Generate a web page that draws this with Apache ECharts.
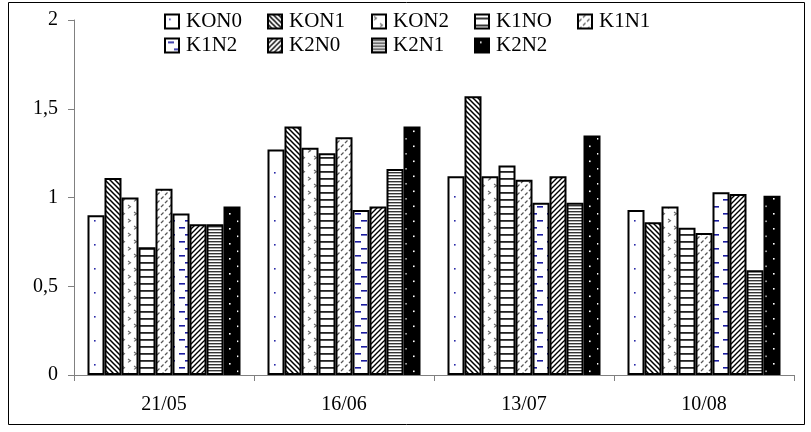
<!DOCTYPE html>
<html>
<head>
<meta charset="utf-8">
<script src="https://cdn.jsdelivr.net/npm/echarts@6/dist/echarts.min.js"></script>
<style>
  html, body { margin: 0; padding: 0; background: #fff; }
  #chart { width: 811px; height: 432px; }
</style>
</head>
<body>
<div id="chart"></div>
<script>
// Sampling dates (categories)
const dates = ['21/05', '16/06', '13/07', '10/08'];

// Treatment series
const seriesNames = ['KON0', 'KON1', 'KON2', 'K1NO', 'K1N1', 'K1N2', 'K2N0', 'K2N1', 'K2N2'];
const KON0 = [0.90, 1.27, 1.12, 0.93];
const KON1 = [1.11, 1.40, 1.57, 0.86];
const KON2 = [1.00, 1.28, 1.12, 0.95];
const K1NO = [0.72, 1.25, 1.18, 0.83];
const K1N1 = [1.05, 1.34, 1.10, 0.80];
const K1N2 = [0.91, 0.93, 0.97, 1.03];
const K2N0 = [0.85, 0.95, 1.12, 1.02];
const K2N1 = [0.85, 1.16, 0.97, 0.59];
const K2N2 = [0.95, 1.40, 1.35, 1.01];
const seriesValues = [KON0, KON1, KON2, K1NO, K1N1, K1N2, K2N0, K2N1, K2N2];

// Value axis ticks
const yTickValues = [0, 0.5, 1, 1.5, 2];
const yTickLabels = ['0', '0,5', '1', '1,5', '2'];

const FONT = '"Liberation Serif", "Times New Roman", serif';

// ---- fill patterns -------------------------------------------------------
function tile(w, h, bg, draw) {
  const c = document.createElement('canvas');
  c.width = w; c.height = h;
  const g = c.getContext('2d');
  g.fillStyle = bg;
  g.fillRect(0, 0, w, h);
  draw(g, w, h);
  return { image: c, repeat: 'repeat' };
}
function diag(g, w, h, color, lw, forward) {
  g.strokeStyle = color; g.lineWidth = lw;
  g.beginPath();
  for (let k = -1; k <= 1; k++) {
    if (forward) { g.moveTo(k * w - 1, h + 1); g.lineTo(k * w + w + 1, -1); }
    else { g.moveTo(k * w - 1, -1); g.lineTo(k * w + w + 1, h + 1); }
  }
  g.stroke();
}
const patterns = [
  // KON0: sparse blue dots
  tile(18, 24, '#fff', g => { g.fillStyle = '#2a2aa8'; g.fillRect(4, 4, 1.6, 1.6); g.fillRect(13, 16, 1.6, 1.6); }),
  // KON1: dense back-slash hatching
  tile(5, 5, '#fff', (g, w, h) => diag(g, w, h, '#000', 1.5, false)),
  // KON2: small grey chevrons
  tile(12, 14, '#fff', g => {
    g.strokeStyle = '#666'; g.lineWidth = 1.1; g.beginPath();
    g.moveTo(2, 2); g.lineTo(4.5, 3.7); g.lineTo(2, 5.4);
    g.moveTo(8, 9); g.lineTo(10.5, 10.7); g.lineTo(8, 12.4);
    g.stroke();
  }),
  // K1NO: wide horizontal lines
  tile(4, 7, '#fff', g => { g.fillStyle = '#222'; g.fillRect(0, 3, 4, 1.8); }),
  // K1N1: dashed forward slashes
  tile(8, 8, '#fff', g => {
    g.strokeStyle = '#555'; g.lineWidth = 1.2; g.beginPath();
    g.moveTo(1, 7); g.lineTo(3.5, 4.5);
    g.moveTo(5, 3); g.lineTo(7.5, 0.5);
    g.stroke();
  }),
  // K1N2: blue dashes
  tile(16, 14, '#fff', g => { g.fillStyle = '#1c1ca0'; g.fillRect(3, 3, 6, 1.6); g.fillRect(9, 10, 6, 1.6); }),
  // K2N0: dense forward-slash hatching
  tile(5, 5, '#fff', (g, w, h) => diag(g, w, h, '#000', 1.4, true)),
  // K2N1: narrow horizontal lines
  tile(4, 3, '#fff', g => { g.fillStyle = '#333'; g.fillRect(0, 1, 4, 1.4); }),
  // K2N2: black with white dots
  tile(16, 15, '#000', g => { g.fillStyle = '#fff'; g.fillRect(5, 3, 1.6, 1.6); g.fillRect(13, 10.5, 1.6, 1.6); })
];

// ---- legend grid (5 items on the first row, 4 on the second) -------------
const legendCols = [164, 267, 371, 474, 577];
const legendRows = [11, 35];
const legends = seriesNames.map((name, i) => ({
  data: [name],
  left: legendCols[i < 5 ? i : i - 5],
  top: legendRows[i < 5 ? 0 : 1],
  padding: 0,
  itemWidth: 14,
  itemHeight: 14,
  icon: 'rect',
  selectedMode: false,
  itemStyle: { borderColor: '#000', borderWidth: 2 },
  textStyle: { fontFamily: FONT, fontSize: 21, color: '#000', padding: [0, 0, 0, 2] }
}));

const series = seriesNames.map((name, i) => ({
  name: name,
  type: 'bar',
  data: seriesValues[i],
  barWidth: 17,
  barGap: '0%',
  itemStyle: { color: patterns[i], borderColor: '#000', borderWidth: 2 },
  emphasis: { disabled: true }
}));

const chart = echarts.init(document.getElementById('chart'), null, { renderer: 'canvas' });
chart.setOption({
  animation: false,
  backgroundColor: '#fff',
  legend: legends,
  grid: { left: 74, right: 17, top: 20, bottom: 57 },
  xAxis: {
    type: 'category',
    data: dates,
    axisLine: { lineStyle: { color: '#808080', width: 1 } },
    axisTick: { show: true, length: 6, lineStyle: { color: '#808080' } },
    axisLabel: { fontFamily: FONT, fontSize: 20, color: '#000', margin: 20 }
  },
  yAxis: {
    type: 'value',
    min: 0, max: 2, interval: 0.5,
    splitLine: { show: false },
    axisLine: { show: true, lineStyle: { color: '#808080', width: 1 } },
    axisTick: { show: true, length: 6, lineStyle: { color: '#808080' } },
    axisLabel: {
      fontFamily: FONT, fontSize: 20, color: '#000', margin: 16,
      formatter: v => yTickLabels[yTickValues.indexOf(v)]
    }
  },
  graphic: [{
    type: 'rect',
    shape: { x: 8.5, y: 2.5, width: 796, height: 422 },
    style: { fill: 'none', stroke: '#000', lineWidth: 1 },
    silent: true
  }],
  series: series
});
</script>
</body>
</html>
